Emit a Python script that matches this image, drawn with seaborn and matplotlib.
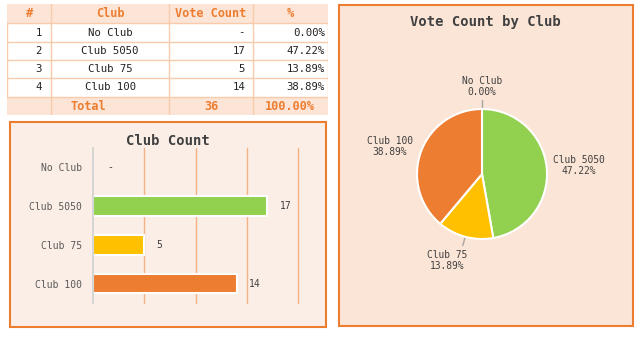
import matplotlib
matplotlib.use("Agg")
import matplotlib.pyplot as plt
from matplotlib.patches import Rectangle
import numpy as np
import pandas as pd
import seaborn as sns

# ---- data ----
clubs = ["No Club", "Club 5050", "Club 75", "Club 100"]
votes = [0, 17, 5, 14]
row_ids = [1, 2, 3, 4]
colors = ["#A5A5A5", "#92D050", "#FFC000", "#ED7D31"]
headers = ["#", "Club", "Vote Count", "%"]

total = sum(votes)
pcts = [v / total * 100 for v in votes]

sns.set_theme(style="white")
plt.rcParams["font.family"] = ["DejaVu Sans Mono", "DejaVu Sans"]

W, H = 640, 337
fig = plt.figure(figsize=(W / 100, H / 100), dpi=100)
fig.patch.set_facecolor("white")

ORANGE = "#ED7D31"
LINE = "#F8CBAD"
HDR_BG = "#FCE4D6"


def px_axes(x0, y0, x1, y1, **kw):
    return fig.add_axes([x0 / W, 1 - y1 / H, (x1 - x0) / W, (y1 - y0) / H], **kw)


# ---- panel backgrounds ----
fig.patches.append(Rectangle((10 / W, 1 - 327 / H), 316 / W, 205 / H, transform=fig.transFigure,
                             facecolor="#FBEEE6", edgecolor=ORANGE, lw=1.5, zorder=-5))
fig.patches.append(Rectangle((338.5 / W, 1 - 326 / H), 294 / W, 321 / H, transform=fig.transFigure,
                             facecolor="#FBE5D6", edgecolor=ORANGE, lw=1.5, zorder=-5))

# ---- table ----
tax = px_axes(7, 4, 328, 115)
tax.set_xlim(7, 328)
tax.set_ylim(115, 4)
tax.axis("off")
col_edges = [7, 51, 169, 253, 328]
row_edges = [4, 23, 42, 60, 78, 97, 115]
fs_t = 7.7
fs_h = 8.6
# backgrounds
tax.add_patch(Rectangle((7, 4), 321, 19, facecolor=HDR_BG, edgecolor="none"))
tax.add_patch(Rectangle((7, 97), 321, 18, facecolor=HDR_BG, edgecolor="none"))
for y in row_edges[1:-1]:
    tax.plot([7, 328], [y, y], color=LINE, lw=1)
for x in col_edges[1:-1]:
    tax.plot([x, x], [4, 115], color=LINE, lw=1)
tax.plot([7, 7], [23, 97], color=LINE, lw=1)
tax.plot([328, 328], [23, 97], color=LINE, lw=1)
for i, h in enumerate(headers):
    tax.text((col_edges[i] + col_edges[i + 1]) / 2, 13.5, h, ha="center", va="center",
             color=ORANGE, fontsize=fs_h, fontweight="bold")
for r in range(len(clubs)):
    yc = (row_edges[r + 1] + row_edges[r + 2]) / 2
    tax.text(42, yc, str(row_ids[r]), ha="right", va="center", fontsize=fs_t, color="#222222")
    tax.text(110, yc, clubs[r], ha="center", va="center", fontsize=fs_t, color="#222222")
    tax.text(245, yc, "-" if votes[r] == 0 else str(votes[r]), ha="right", va="center",
             fontsize=fs_t, color="#222222")
    tax.text(325, yc, f"{pcts[r]:.2f}%", ha="right", va="center", fontsize=fs_t, color="#222222")
tax.text(88, 106, "Total", ha="center", va="center", color=ORANGE, fontsize=fs_h, fontweight="bold")
tax.text(211, 106, str(total), ha="center", va="center", color=ORANGE, fontsize=fs_h, fontweight="bold")
tax.text(290, 106, f"{sum(pcts):.2f}%", ha="center", va="center", color=ORANGE, fontsize=fs_h,
         fontweight="bold")

# ---- bar chart ----
fig.text(168 / W, 1 - 141 / H, "Club Count", ha="center", va="center", fontsize=10,
         color="#404040", fontweight="bold")
bax = px_axes(93, 148, 298, 303)
df = pd.DataFrame({"club": clubs, "votes": votes})
sns.barplot(data=df, y="club", x="votes", hue="club", palette=colors, order=clubs,
            legend=False, ax=bax, width=0.5, edgecolor="white", linewidth=1.5, saturation=1)
bax.set_facecolor("none")
bax.set_xlim(0, 20)
bax.set_xticks([5, 10, 15, 20])
bax.set_xticklabels([])
bax.tick_params(axis="x", length=0)
bax.grid(axis="x", color="#F4B183", lw=1)
for gl in bax.get_xgridlines():
    gl.set_clip_on(False)
bax.set_axisbelow(True)
for s in ["top", "right", "bottom"]:
    bax.spines[s].set_visible(False)
bax.spines["left"].set_color("#D0D0D0")
bax.spines["left"].set_linewidth(1.2)
bax.set_xlabel("")
bax.set_ylabel("")
bax.tick_params(axis="y", length=0, labelsize=7.0, labelcolor="#595959", pad=8)
bax.set_yticks(np.arange(len(clubs) + 1) - 0.5, minor=True)
bax.tick_params(axis="y", which="minor", length=3, color="#D0D0D0", width=1)
for i, v in enumerate(votes):
    bax.annotate("-" if v == 0 else str(v), (v, i), xytext=(9 if v else 10, 0),
                 textcoords="offset points", ha="left", va="center", fontsize=7.0, color="#404040")

# ---- pie chart ----
fig.text(485 / W, 1 - 22 / H, "Vote Count by Club", ha="center", va="center", fontsize=10,
         color="#404040", fontweight="bold")
R = 65
pax = px_axes(482 - R, 174 - R, 482 + R, 174 + R)
wedges, _ = pax.pie(votes, colors=colors, startangle=90, counterclock=False,
                    wedgeprops=dict(edgecolor="white", linewidth=1.5))
pax.set_aspect("equal")
pax.set_xlim(-1, 1)
pax.set_ylim(-1, 1)
label_dist = {"No Club": 1.35, "Club 5050": 1.5, "Club 75": 1.38, "Club 100": 1.45}
label_shift = {"No Club": (0.0, 0.0), "Club 5050": (0.0, 0.0),
               "Club 75": (-0.18, 0.0), "Club 100": (-0.06, -0.07)}
leaders = {"No Club", "Club 75"}
for w, c, p in zip(wedges, clubs, pcts):
    ang = np.deg2rad((w.theta1 + w.theta2) / 2)
    d = label_dist[c]
    x = d * np.cos(ang) + label_shift[c][0]
    y = d * np.sin(ang) + label_shift[c][1]
    pax.text(x, y, f"{c}\n{p:.2f}%", ha="center", va="center", fontsize=6.9, color="#404040",
             linespacing=1.15, clip_on=False)
    if c in leaders:
        pax.plot([np.cos(ang), 1.14 * np.cos(ang)], [np.sin(ang), 1.14 * np.sin(ang)],
                 color="#A6A6A6", lw=1, clip_on=False, zorder=0)

fig.savefig("out.png", dpi=100)
